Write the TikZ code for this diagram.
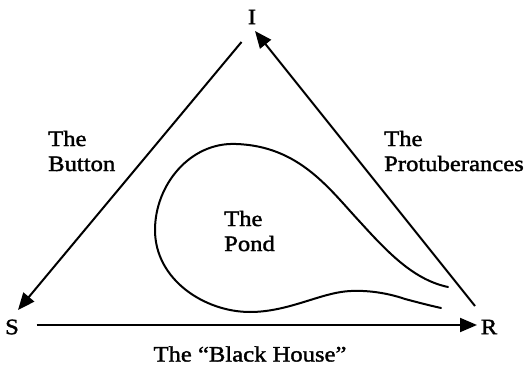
\documentclass[tikz,border=0pt]{standalone}
\usepackage{fontspec}
\setmainfont{Liberation Serif}[FakeStretch=1.12, FakeBold=1.6]
\usetikzlibrary{arrows.meta}
\begin{document}
\begin{tikzpicture}[x=1pt,y=-1pt,
  lbl/.style={font=\fontsize{22}{25}\selectfont, inner sep=0pt, align=left},
  edge/.style={line width=2pt, -{Triangle[length=17pt,width=14pt]}},
  pond/.style={line width=2pt, line cap=round}]
\useasboundingbox (0,0) rectangle (530,366);
\node[lbl] (I) at (252,17) {I};
\node[lbl] (S) at (12,327) {S};
\node[lbl] (R) at (489,327) {R};
\coordinate (rs) at (475,306);
\coordinate (it) at (255,31);
\coordinate (is) at (241.5,42);
\coordinate (st) at (18,310);
\coordinate (ss) at (36.5,325);
\coordinate (rt) at (477,325);
\draw[edge] (rs) -- (it);
\draw[edge] (is) -- (st);
\draw[edge] (ss) -- (rt);
\node[lbl, anchor=west] (button) at (48,151) {The\\Button};
\node[lbl, anchor=west] (prot) at (384,151) {The\\Protuberances};
\node[lbl, anchor=west] (pondlbl) at (224,231) {The\\Pond};
\node[lbl] (bh) at (250,354) {The “Black House”};
\draw[pond] (448,287) .. controls (415,280) and (390,255) .. (361,223)
  .. controls (330,190) and (300,146) .. (236,144)
  .. controls (190,142) and (155,185) .. (155,230)
  .. controls (155,280) and (205,312) .. (250,312)
  .. controls (285,312) and (315,296) .. (341,292)
  .. controls (360,289) and (385,292) .. (405,299)
  .. controls (420,303) and (432,306) .. (441,308);
\end{tikzpicture}
\end{document}
